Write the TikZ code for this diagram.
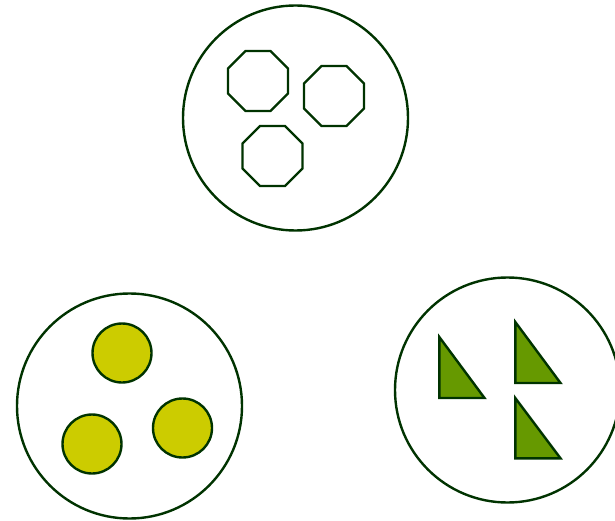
\documentclass[tikz,border=0pt]{standalone}
\usetikzlibrary{shapes.geometric}
\definecolor{edge}{HTML}{003300}
\definecolor{yel}{HTML}{CCCC00}
\definecolor{leaf}{HTML}{669900}
\begin{document}
\begin{tikzpicture}[x=1pt,y=-1pt,
  ring/.style={circle,draw=edge,line width=2.4pt,minimum size=225pt,inner sep=0pt},
  octa/.style={regular polygon,regular polygon sides=8,draw=edge,line width=2.4pt,minimum size=65pt,inner sep=0pt},
  ball/.style={circle,draw=edge,fill=yel,line width=2.4pt,minimum size=59pt,inner sep=0pt},
  tri/.style={draw=edge,fill=leaf,line width=2.4pt,line join=miter}]
\useasboundingbox (0,0) rectangle (615,521);
\node[ring] (top) at (295.5,118) {};
\node[ring] (left) at (129.5,406) {};
\node[ring] (right) at (507.5,390) {};
\node[octa] (o1) at (258,81) {};
\node[octa] (o2) at (334,96) {};
\node[octa] (o3) at (272.5,156) {};
\node[ball] (b1) at (122,353) {};
\node[ball] (b2) at (182.5,428) {};
\node[ball] (b3) at (92,444) {};
\draw[tri] (439.3,337) -- (439.3,398) -- (484.5,398) -- cycle;
\draw[tri] (515.3,322) -- (515.3,383) -- (560.5,383) -- cycle;
\draw[tri] (515.3,398) -- (515.3,458.3) -- (560.5,458.3) -- cycle;
\end{tikzpicture}
\end{document}
